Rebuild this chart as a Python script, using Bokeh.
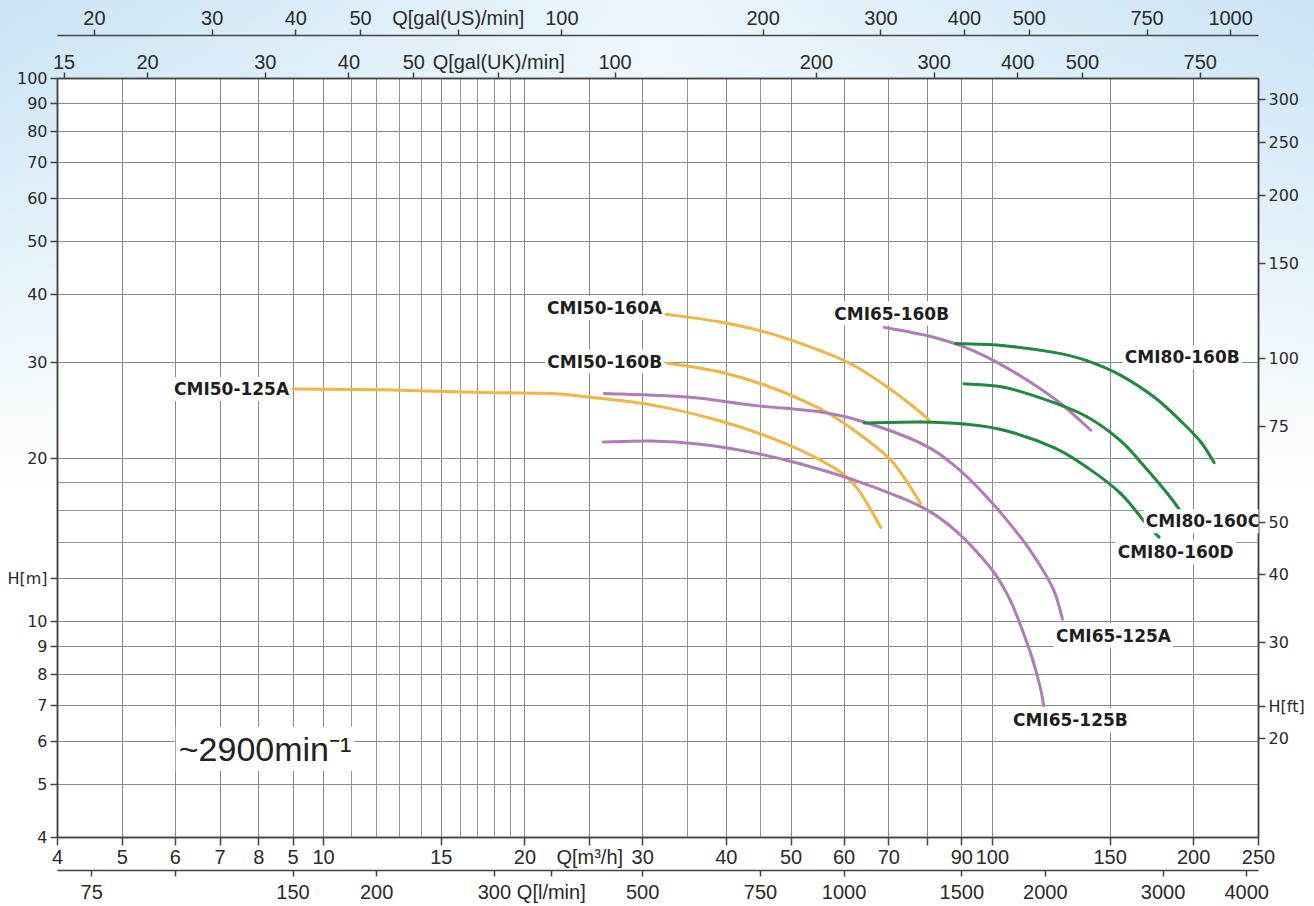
import math
from bokeh.plotting import figure
from bokeh.models import LogAxis, Range1d, LogScale, FixedTicker, Label, ColumnDataSource
from bokeh.embed import file_html
from bokeh.resources import INLINE

# ---------------- unit conversions ----------------
UKGPM_PER_M3H = 3.6661
USGPM_PER_M3H = 4.4029
LMIN_PER_M3H = 16.6667
FT_PER_M = 3.28084

# ---------------- axis ticks / tick labels ----------------
q_major = [4, 5, 6, 7, 8, 9, 10, 15, 20, 25, 30, 40, 50, 60, 70, 80, 90, 100, 150, 200, 250]
q_major_labels = ["4", "5", "6", "7", "8", "5", "10", "15", "20", "Q[m\u00b3/h]", "30", "40", "50",
                  "60", "70", "", "90", "100", "150", "200", "250"]
q_minor = [11, 12, 13, 14, 16, 17, 18, 19, 35, 45]
h_major = [4, 5, 6, 7, 8, 9, 10, 12, 20, 30, 40, 50, 60, 70, 80, 90, 100]
h_major_labels = ["4", "5", "6", "7", "8", "9", "10", "H[m]", "20", "30", "40", "50",
                  "60", "70", "80", "90", "100"]
h_minor = [14, 16, 18]
hft_ticks = [20, 22.9, 30, 40, 50, 75, 100, 150, 200, 250, 300]
hft_labels = ["20", "H[ft]", "30", "40", "50", "75", "100", "150", "200", "250", "300"]
quk_ticks = [15, 20, 30, 40, 50, 67, 100, 200, 300, 400, 500, 750]
quk_labels = ["15", "20", "30", "40", "50", "Q[gal(UK)/min]", "100", "200", "300", "400", "500", "750"]
qus_ticks = [20, 30, 40, 50, 70, 100, 200, 300, 400, 500, 750, 1000]
qus_labels = ["20", "30", "40", "50", "Q[gal(US)/min]", "100", "200", "300", "400", "500", "750", "1000"]
qlmin_ticks = [75, 100, 150, 200, 300, 365, 500, 750, 1000, 1500, 2000, 3000, 4000]
qlmin_labels = ["75", "", "150", "200", "300", "Q[l/min]", "500", "750", "1000", "1500", "2000",
                "3000", "4000"]

# ---------------- pump curves: Q [m3/h], H [m] ----------------
cmi50_125a_q = [9.0, 12.3, 17.4, 21.9, 24.8, 31.2, 39.2, 46.6, 55.4, 62.1, 68.1]
cmi50_125a_h = [26.8, 26.7, 26.4, 26.3, 25.9, 25.0, 23.4, 21.8, 19.8, 17.9, 14.9]
cmi50_160a_q = [32.5, 39.2, 46.6, 55.4, 62.1, 69.7, 76.4, 80.4]
cmi50_160a_h = [36.8, 35.6, 33.9, 31.5, 29.6, 27.0, 24.8, 23.5]
cmi50_160b_q = [32.7, 39.2, 46.6, 55.4, 62.1, 69.7, 73.8, 78.1]
cmi50_160b_h = [29.9, 28.8, 27.0, 24.6, 22.5, 20.1, 18.4, 16.5]
cmi65_125a_q = [26.3, 35.0, 44.0, 55.4, 64.3, 78.1, 87.6, 98.3, 110.2, 116.8, 123.6, 127.3]
cmi65_125a_h = [26.3, 25.9, 25.0, 24.3, 23.3, 21.3, 19.4, 16.9, 14.3, 12.9, 11.4, 10.1]
cmi65_125b_q = [26.2, 30.9, 36.6, 43.5, 51.7, 61.4, 73.0, 80.9, 88.1, 94.4, 101.1, 106.5, 111.0,
                114.9, 118.1, 119.3]
cmi65_125b_h = [21.4, 21.5, 21.2, 20.5, 19.5, 18.3, 16.9, 15.9, 14.7, 13.5, 12.2, 10.9, 9.6,
                8.5, 7.5, 7.0]
cmi65_160b_q = [68.9, 80.0, 89.7, 100.6, 112.8, 126.5, 140.3]
cmi65_160b_h = [34.8, 33.6, 32.2, 30.2, 27.8, 25.2, 22.5]
cmi80_160b_q = [88.1, 104.1, 123.6, 138.7, 155.6, 174.5, 191.3, 205.0, 214.6]
cmi80_160b_h = [32.5, 32.2, 31.3, 30.2, 28.4, 25.9, 23.4, 21.4, 19.6]
cmi80_160c_q = [90.7, 104.1, 123.6, 138.7, 155.6, 170.6, 182.7, 192.4]
cmi80_160c_h = [27.4, 27.0, 25.3, 23.8, 21.5, 19.0, 17.2, 15.8]
cmi80_160d_q = [64.3, 78.1, 90.7, 104.1, 123.6, 138.7, 155.6, 168.6, 177.5]
cmi80_160d_h = [23.2, 23.3, 23.1, 22.5, 20.9, 19.2, 17.2, 15.3, 14.3]

YELLOW = "#F2B443"
PURPLE = "#B27ABB"
GREEN = "#1D8A3E"

curves = [
    (cmi50_125a_q, cmi50_125a_h, YELLOW),
    (cmi50_160a_q, cmi50_160a_h, YELLOW),
    (cmi50_160b_q, cmi50_160b_h, YELLOW),
    (cmi65_125a_q, cmi65_125a_h, PURPLE),
    (cmi65_125b_q, cmi65_125b_h, PURPLE),
    (cmi65_160b_q, cmi65_160b_h, PURPLE),
    (cmi80_160d_q, cmi80_160d_h, GREEN),
    (cmi80_160c_q, cmi80_160c_h, GREEN),
    (cmi80_160b_q, cmi80_160b_h, GREEN),
]

# ---------------- curve labels ----------------
curve_names = ["CMI50-125A", "CMI50-160A", "CMI50-160B", "CMI65-160B", "CMI80-160B",
               "CMI80-160C", "CMI80-160D", "CMI65-125A", "CMI65-125B"]
name_q = [8.94, 32.3, 32.3, 70.7, 156.7, 168.4, 152.9, 123.6, 106.6]
name_h = [26.8, 37.8, 30.1, 36.9, 30.7, 15.3, 13.4, 9.42, 6.57]
name_align = ["right", "right", "right", "center", "left", "left", "left", "left", "left"]


def bezier_source(q, h):
    """Smooth drawing through the read points: one cubic segment between each pair of
    consecutive points (Catmull-Rom handles, computed in log space)."""
    lx = [math.log10(v) for v in q]
    ly = [math.log10(v) for v in h]
    n = len(lx)
    d = {k: [] for k in ("x0", "y0", "x1", "y1", "cx0", "cy0", "cx1", "cy1")}
    for i in range(n - 1):
        a = max(i - 1, 0)
        b = min(i + 2, n - 1)
        d["x0"].append(q[i])
        d["y0"].append(h[i])
        d["x1"].append(q[i + 1])
        d["y1"].append(h[i + 1])
        d["cx0"].append(10 ** (lx[i] + (lx[i + 1] - lx[a]) / 6))
        d["cy0"].append(10 ** (ly[i] + (ly[i + 1] - ly[a]) / 6))
        d["cx1"].append(10 ** (lx[i + 1] - (lx[b] - lx[i]) / 6))
        d["cy1"].append(10 ** (ly[i + 1] - (ly[b] - ly[i]) / 6))
    return ColumnDataSource(d)


# ---------------- figure ----------------
W, H = 1314, 905
p = figure(width=W, height=H, x_axis_type="log", y_axis_type="log",
           x_range=Range1d(4, 250), y_range=Range1d(4, 100),
           output_backend="svg", toolbar_location=None,
           min_border_left=57, min_border_right=56, min_border_top=78, min_border_bottom=68)
p.border_fill_color = None
p.background_fill_color = "white"
p.outline_line_color = "#444444"
p.outline_line_width = 1.5
p.styles = {
    "background": "linear-gradient(to bottom, rgba(255,255,255,0) 0%, rgba(255,255,255,1) 55%),"
                  " linear-gradient(to right, #c9e4f5 0%, #edf6fc 50%, #c9e4f5 100%)"
}

p.extra_x_ranges = {
    "uk": Range1d(4 * UKGPM_PER_M3H, 250 * UKGPM_PER_M3H),
    "us": Range1d(4 * USGPM_PER_M3H, 250 * USGPM_PER_M3H),
    "lmin": Range1d(4 * LMIN_PER_M3H, 250 * LMIN_PER_M3H),
}
p.extra_x_scales = {"uk": LogScale(), "us": LogScale(), "lmin": LogScale()}
p.extra_y_ranges = {"ft": Range1d(4 * FT_PER_M, 100 * FT_PER_M)}
p.extra_y_scales = {"ft": LogScale()}

TICK_FONT = "Liberation Sans"
SIDE_FONT = "DejaVu Sans"
AX_COLOR = "#444444"
TXT_COLOR = "#2a2a2a"


def style(ax, font, size, tick_out, standoff):
    ax.axis_line_color = AX_COLOR
    ax.axis_line_width = 1.5
    ax.major_tick_line_color = AX_COLOR
    ax.major_tick_line_width = 1.5
    ax.major_tick_in = 0
    ax.major_tick_out = tick_out
    ax.minor_tick_in = 0
    ax.minor_tick_out = 0
    ax.major_label_text_font = font
    ax.major_label_text_font_size = size
    ax.major_label_text_color = TXT_COLOR
    ax.major_label_standoff = standoff


# main bottom axis (m3/h)
xa = p.xaxis[0]
xa.ticker = FixedTicker(ticks=q_major, minor_ticks=q_minor)
xa.major_label_overrides = {t: s for t, s in zip(q_major, q_major_labels)}
style(xa, TICK_FONT, "20px", 8, 0)

# bottom l/min axis
al = LogAxis(x_range_name="lmin", ticker=FixedTicker(ticks=qlmin_ticks, minor_ticks=[]))
al.major_label_overrides = {t: s for t, s in zip(qlmin_ticks, qlmin_labels)}
style(al, TICK_FONT, "20px", 6, 4)
p.add_layout(al, "below")

# left axis (m)
ya = p.yaxis[0]
ya.ticker = FixedTicker(ticks=h_major, minor_ticks=h_minor)
ya.major_label_overrides = {t: s for t, s in zip(h_major, h_major_labels)}
style(ya, SIDE_FONT, "16px", 7, 3)

# right axis (ft)
ar = LogAxis(y_range_name="ft", ticker=FixedTicker(ticks=hft_ticks, minor_ticks=[]))
ar.major_label_overrides = {t: s for t, s in zip(hft_ticks, hft_labels)}
style(ar, SIDE_FONT, "16px", 7, 3)
p.add_layout(ar, "right")

# top axes
auk = LogAxis(x_range_name="uk", ticker=FixedTicker(ticks=quk_ticks, minor_ticks=[]))
auk.major_label_overrides = {t: s for t, s in zip(quk_ticks, quk_labels)}
style(auk, TICK_FONT, "20px", 6, 0)
auk.axis_label = " "
auk.axis_label_standoff = 0
auk.axis_label_text_font_size = "8px"
p.add_layout(auk, "above")

aus = LogAxis(x_range_name="us", ticker=FixedTicker(ticks=qus_ticks, minor_ticks=[]))
aus.major_label_overrides = {t: s for t, s in zip(qus_ticks, qus_labels)}
style(aus, TICK_FONT, "20px", 6, 1)
p.add_layout(aus, "above")

# grids
for g in (p.xgrid[0], p.ygrid[0]):
    g.grid_line_color = "#8a8a8a"
    g.grid_line_width = 1
    g.minor_grid_line_color = "#969696"
    g.minor_grid_line_width = 1

# curves (smooth cubic pieces through the read points)
for q, h, c in curves:
    p.bezier(x0="x0", y0="y0", x1="x1", y1="y1", cx0="cx0", cy0="cy0", cx1="cx1", cy1="cy1",
             source=bezier_source(q, h), line_color=c, line_width=3, line_cap="round")

# curve labels
for name, q, h, al_ in zip(curve_names, name_q, name_h, name_align):
    p.add_layout(Label(x=q, y=h, text=name, text_align=al_, text_baseline="middle",
                       text_font=SIDE_FONT, text_font_style="bold", text_font_size="17px",
                       text_color="#1e1e1e", background_fill_color="white", padding=2))

# speed label
p.add_layout(Label(x=6.01, y=5.83, text="~2900min\u207b\u00b9", text_align="left",
                   text_baseline="middle", text_font=TICK_FONT, text_font_size="34px",
                   text_color="#222222", background_fill_color="white", padding=3))

open("out.html", "w").write(file_html(p, INLINE))
